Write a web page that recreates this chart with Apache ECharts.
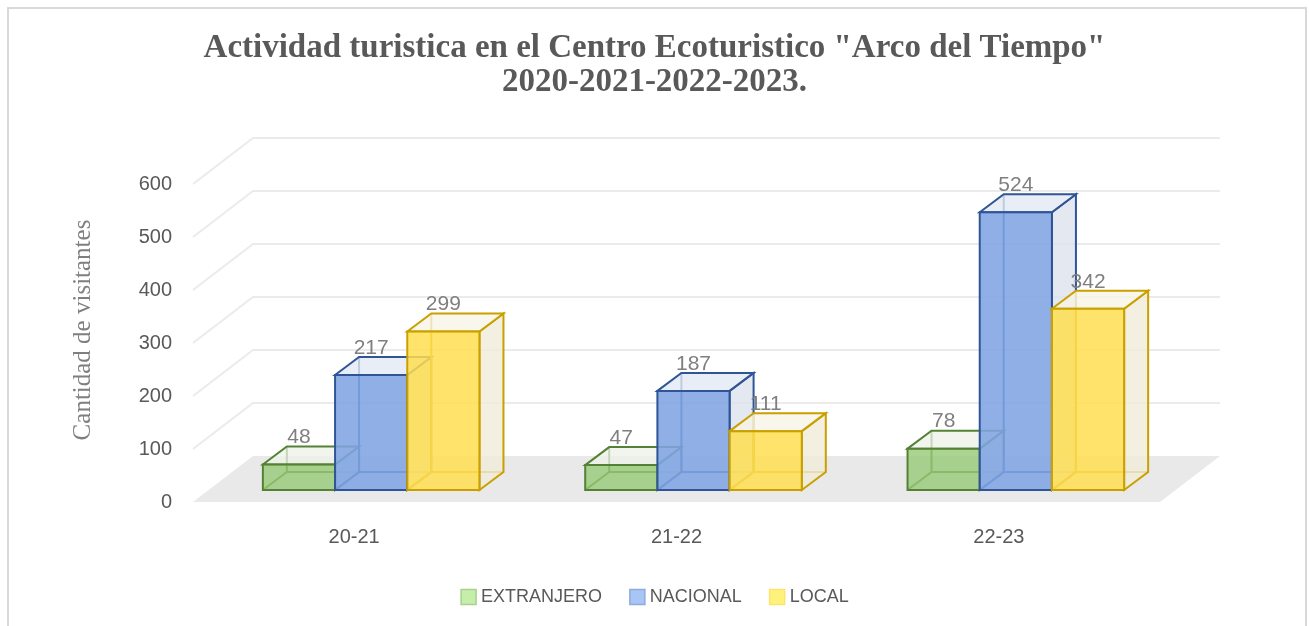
<!DOCTYPE html>
<html>
<head>
<meta charset="utf-8">
<title>Actividad turistica - Arco del Tiempo</title>
<script src="https://cdn.jsdelivr.net/npm/echarts@6/dist/echarts.min.js"></script>
<style>
  html, body { margin: 0; padding: 0; background: #fff; }
  #chart { width: 1309px; height: 626px; }
</style>
</head>
<body>
<div id="chart"></div>
<script>
// datos
var categorias = ['20-21', '21-22', '22-23'];
var extranjero = [48, 47, 78];
var nacional = [217, 187, 524];
var local = [299, 111, 342];
var ticksY = [0, 100, 200, 300, 400, 500, 600];

// profundidad del piso / paredes y de las cajas (pseudo 3D)
var PISO_DX = 60, PISO_DY = -46;
var FRENTE_DX = 17, FRENTE_DY = -12;
var CAJA_DX = 24, CAJA_DY = -18;

var estilos = [
  { borde: '#548235', frente: 'rgba(150,200,118,0.80)', tapa: 'rgba(236,242,232,0.75)', lado: 'rgba(228,234,222,0.75)',
    leyenda: '#c4eeaa', leyendaBorde: '#a9d18e' },
  { borde: '#2f5597', frente: 'rgba(128,164,226,0.88)', tapa: 'rgba(228,233,242,0.80)', lado: 'rgba(220,226,238,0.80)',
    leyenda: '#a7c5f5', leyendaBorde: '#8faadc' },
  { borde: '#c9a000', frente: 'rgba(255,222,80,0.85)', tapa: 'rgba(248,244,230,0.80)', lado: 'rgba(240,235,218,0.80)',
    leyenda: '#fff27c', leyendaBorde: '#ffe36b' }
];

function pisoRender(params, api) {
  var cs = params.coordSys;
  var y0 = api.coord([0, 0])[1];
  var x0 = cs.x, x1 = cs.x + cs.width;
  return {
    type: 'polygon',
    shape: { points: [[x0, y0], [x0 + PISO_DX, y0 + PISO_DY], [x1 + PISO_DX, y0 + PISO_DY], [x1, y0]] },
    style: { fill: '#e9e9e9' },
    silent: true
  };
}

function paredRender(params, api) {
  var cs = params.coordSys;
  var y = api.coord([0, api.value(1)])[1];
  var x0 = cs.x, x1 = cs.x + cs.width;
  return {
    type: 'polyline',
    shape: { points: [[x0, y], [x0 + PISO_DX, y + PISO_DY], [x1 + PISO_DX, y + PISO_DY]] },
    style: { stroke: '#ebebeb', lineWidth: 2, fill: null },
    silent: true
  };
}

function cajaRender(idx) {
  var est = estilos[idx];
  return function (params, api) {
    var cat = api.value(0), val = api.value(1);
    var base = api.coord([cat, 0]);
    var tope = api.coord([cat, val]);
    var banda = api.size([1, 0])[0];
    var w = banda * 0.224;
    var xl = base[0] - 1.5 * w + idx * w + FRENTE_DX;
    var xr = xl + w;
    var yb = base[1] + FRENTE_DY;
    var yt = tope[1] + FRENTE_DY;
    var dx = CAJA_DX, dy = CAJA_DY;
    var linea = { stroke: est.borde, lineWidth: 2, fill: null };
    return {
      type: 'group',
      children: [
        // aristas ocultas
        { type: 'polyline', shape: { points: [[xl, yb], [xl + dx, yb + dy], [xr + dx, yb + dy]] }, style: linea },
        { type: 'line', shape: { x1: xl + dx, y1: yb + dy, x2: xl + dx, y2: yt + dy }, style: linea },
        // cara lateral
        { type: 'polygon', shape: { points: [[xr, yb], [xr + dx, yb + dy], [xr + dx, yt + dy], [xr, yt]] },
          style: { fill: est.lado, stroke: est.borde, lineWidth: 2 } },
        // tapa
        { type: 'polygon', shape: { points: [[xl, yt], [xl + dx, yt + dy], [xr + dx, yt + dy], [xr, yt]] },
          style: { fill: est.tapa, stroke: est.borde, lineWidth: 2 } },
        // frente
        { type: 'rect', shape: { x: xl, y: yt, width: w, height: yb - yt },
          style: { fill: est.frente, stroke: est.borde, lineWidth: 2 } },
        // etiqueta
        { type: 'text', z2: 10,
          style: { text: String(val), x: (xl + xr) / 2, y: yt + dy - 9, align: 'center', verticalAlign: 'middle',
                   fill: '#7f7f7f', font: '21px "Liberation Sans"' } }
      ]
    };
  };
}

function aPuntos(arr) {
  return arr.map(function (v, i) { return [i, v]; });
}

var grafico = echarts.init(document.getElementById('chart'));

var option = {
  backgroundColor: '#ffffff',
  animation: false,
  title: {
    text: 'Actividad turistica en el Centro Ecoturistico "Arco del Tiempo"\n2020-2021-2022-2023.',
    left: 'center',
    top: 26,
    textStyle: {
      fontFamily: 'Liberation Serif',
      fontWeight: 'bold',
      fontSize: 33,
      lineHeight: 34,
      color: '#595959'
    }
  },
  legend: {
    top: 583,
    left: 'center',
    icon: 'rect',
    itemWidth: 15,
    itemHeight: 15,
    itemGap: 27,
    textStyle: { fontFamily: 'Liberation Sans', fontSize: 18, color: '#595959' },
    data: ['EXTRANJERO', 'NACIONAL', 'LOCAL'].map(function (n, i) {
      return { name: n, itemStyle: { color: estilos[i].leyenda, borderColor: estilos[i].leyendaBorde, borderWidth: 1.5 } };
    })
  },
  graphic: [
    { type: 'rect', shape: { x: 8, y: 8, width: 1298, height: 640 },
      style: { fill: null, stroke: '#d9d9d9', lineWidth: 2 }, silent: true },
    { type: 'text', x: 83, y: 330, rotation: Math.PI / 2,
      style: { text: 'Cantidad de visitantes', align: 'center', verticalAlign: 'middle',
               fill: '#7f7f7f', font: '25px "Liberation Serif"' } }
  ],
  grid: { left: 193, right: 149, top: 184, bottom: 124 },
  xAxis: {
    type: 'category',
    data: categorias,
    axisLine: { show: false },
    axisTick: { show: false },
    axisLabel: { margin: 25, fontFamily: 'Liberation Sans', fontSize: 20, color: '#595959' }
  },
  yAxis: {
    type: 'value',
    min: 0,
    max: 600,
    interval: 100,
    axisLine: { show: false },
    axisTick: { show: false },
    splitLine: { show: false },
    axisLabel: { margin: 21, fontFamily: 'Liberation Sans', fontSize: 20, color: '#595959' }
  },
  series: [
    { type: 'custom', name: 'piso', renderItem: pisoRender, data: [[0, 0]], silent: true, z: 1 },
    { type: 'custom', name: 'paredes', renderItem: paredRender, data: aPuntos(ticksY.slice(1)).map(function (d) { return [0, d[1]]; }), silent: true, z: 1 },
    { type: 'custom', name: 'EXTRANJERO', renderItem: cajaRender(0), data: aPuntos(extranjero), encode: { x: 0, y: 1 }, z: 2 },
    { type: 'custom', name: 'NACIONAL', renderItem: cajaRender(1), data: aPuntos(nacional), encode: { x: 0, y: 1 }, z: 3 },
    { type: 'custom', name: 'LOCAL', renderItem: cajaRender(2), data: aPuntos(local), encode: { x: 0, y: 1 }, z: 4 }
  ]
};

grafico.setOption(option);
</script>
</body>
</html>
